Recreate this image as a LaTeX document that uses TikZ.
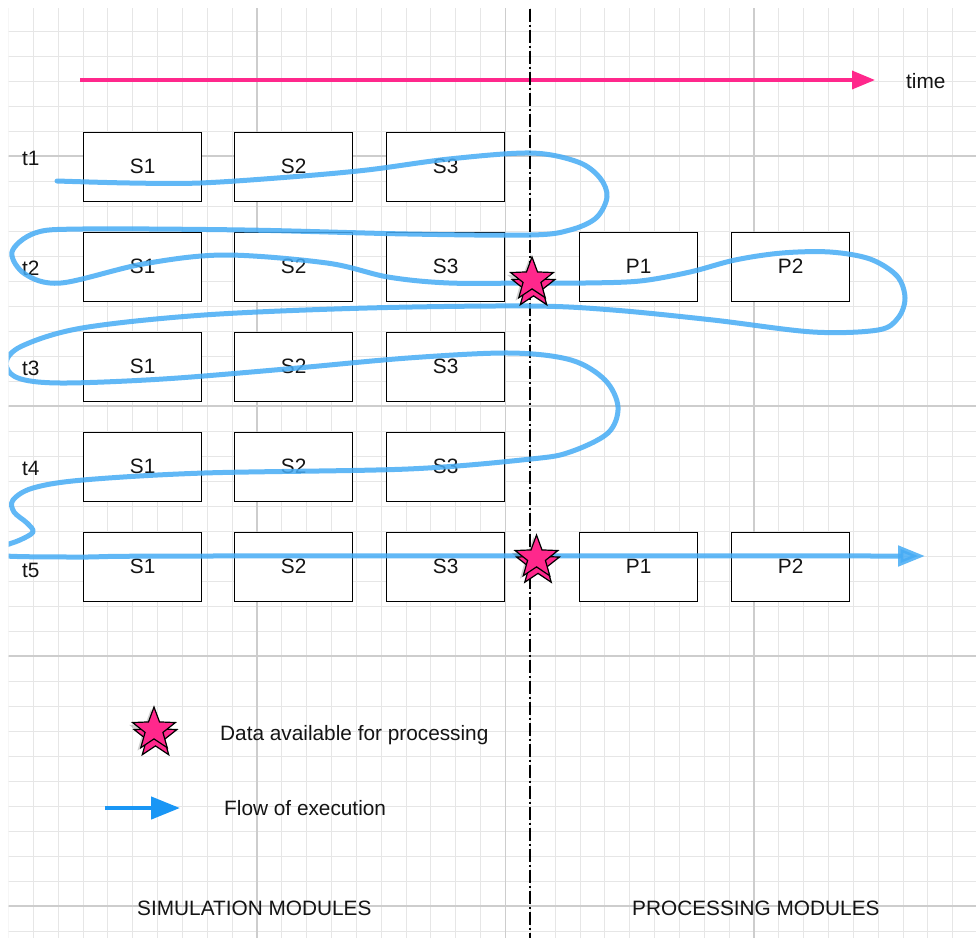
\documentclass[tikz,border=0pt]{standalone}
\usepackage{fontspec}
\setmainfont{Liberation Sans}
\usetikzlibrary{shapes.geometric,arrows.meta}
\definecolor{pinkc}{RGB}{255,40,140}
\definecolor{flowc}{RGB}{70,172,245}
\definecolor{legc}{RGB}{25,150,245}
\definecolor{gridminor}{RGB}{230,230,230}
\definecolor{gridmajor}{RGB}{205,205,205}
\begin{document}
\begin{tikzpicture}[x=1pt,y=-1pt,
  txt/.style={font=\fontsize{20.8}{24}\selectfont, text=black!92},
  modbox/.style={txt, draw=black, line width=1.2pt, fill=white, minimum width=118pt, minimum height=69pt, inner sep=0pt, anchor=north west},
  lbl/.style={txt, inner sep=0pt, anchor=base west},
  datastar/.style={star, star points=5, star point ratio=2.4, minimum size=45pt, inner sep=0pt, fill=pinkc, draw=black, line width=1.2pt},
  starshadow/.style={star, star points=5, star point ratio=2.4, minimum size=46pt, inner sep=0pt, fill=black, opacity=0.18},
  flow/.style={draw=flowc, line width=5pt, opacity=0.85, line cap=round, line join=round},
  dashdot/.style={draw=black, line width=1.4pt, dash pattern=on 13pt off 3pt on 2pt off 3pt}
]
\useasboundingbox (0,0) rectangle (976,938);
\fill[white] (0,0) rectangle (976,938);
% grid
\begin{scope}
\clip (8.5,8.5) rectangle (976,938);
\foreach \k in {0,...,40} {
  \draw[gridminor, line width=1pt] ({8.5+24.85*\k},0) -- ({8.5+24.85*\k},938);
}
\foreach \k in {0,...,38} {
  \draw[gridminor, line width=1pt] (0,{6+25*\k}) -- (976,{6+25*\k});
}
\foreach \k in {10,20,30} {
  \draw[gridmajor, line width=1.2pt] ({8.5+24.85*\k},0) -- ({8.5+24.85*\k},938);
}
\foreach \k in {6,16,26,36} {
  \draw[gridmajor, line width=1.2pt] (0,{6+25*\k}) -- (976,{6+25*\k});
}
\end{scope}

% time arrow
\coordinate (timestart) at (80,80);
\coordinate (timeend) at (875,80);
\draw[pinkc, line width=3.5pt, -{Triangle[length=23pt,width=18pt]}] (timestart) -- (timeend);
\node[lbl] (timelbl) at (906,88.5) {time};

% divider
\coordinate (divtop) at (530,8.5);
\coordinate (divbot) at (530,938);
\draw[dashdot] (divtop) -- (divbot);

% time labels
\node[lbl] (t1) at (22,165) {t1};
\node[lbl] (t2) at (22,275) {t2};
\node[lbl] (t3) at (22,375.5) {t3};
\node[lbl] (t4) at (22,475.5) {t4};
\node[lbl] (t5) at (22,577) {t5};

% simulation boxes
\foreach \r/\y in {1/131.5,2/231.5,3/331.5,4/431.5,5/531.5} {
  \node[modbox] (s1r\r) at (83,\y) {S1};
  \node[modbox] (s2r\r) at (234,\y) {S2};
  \node[modbox] (s3r\r) at (386,\y) {S3};
}
% processing boxes
\node[modbox] (p1r2) at (579,231.5) {P1};
\node[modbox] (p2r2) at (731,231.5) {P2};
\node[modbox] (p1r5) at (579,531.5) {P1};
\node[modbox] (p2r5) at (731,531.5) {P2};

% flow of execution
\begin{scope}
\clip (8.5,8.5) rectangle (976,938);
\draw[flow, -{Triangle[length=27pt,width=20pt]}] plot[smooth, tension=0.55] coordinates {
 (57,181) (130,183) (200,183) (290,177) (367,170) (449,159) (531,153)
 (578,162) (600,178) (607,197) (596,218) (570,230) (531,235)
 (408,234) (245,230) (82,229) (35,233) (12,252) (25,274) (61,283)
 (143,264) (224,255) (327,263) (388,277) (449,283) (530,283) (585,283)
 (640,281) (690,272) (735,260) (782,253) (830,252) (870,259) (897,276) (905,298) (898,318) (878,330)
 (813,332) (713,320) (613,310) (530,306) (367,308) (204,315) (82,328)
 (22,346) (6,363) (18,378) (61,383) (163,379) (286,369) (408,358) (510,353)
 (571,360) (605,380) (618,407) (608,433) (570,452) (531,459)
 (408,469) (204,473) (83,480) (33,488) (13,500) (14,512) (27,523) (33,532)
 (20,540) (4,546) (0,551) (6,556) (83,557) (200,556) (925,556)};
\end{scope}

% data stars
\node[starshadow] (sh1) at (529,282) {};
\node[datastar] (st1b) at (533.5,286.5) {};
\node[datastar] (st1) at (532,279.5) {};
\node[starshadow] (sh2) at (533.5,560) {};
\node[datastar] (st2b) at (538,564) {};
\node[datastar] (st2) at (536.5,557.5) {};

% legend
\node[starshadow] (shl) at (151,732) {};
\node[datastar] (legstarb) at (155.5,736.5) {};
\node[datastar] (legstar) at (154,729.5) {};
\node[lbl] (legdata) at (220,740) {Data available for processing};
\coordinate (legarrs) at (105,808);
\coordinate (legarre) at (180,808);
\draw[legc, line width=4.5pt, -{Triangle[length=29pt,width=22pt]}] (legarrs) -- (legarre);
\node[lbl] (legflow) at (224,815) {Flow of execution};

\node[lbl] (simlbl) at (137,915) {SIMULATION MODULES};
\node[lbl] (proclbl) at (632,915) {PROCESSING MODULES};
\end{tikzpicture}
\end{document}
